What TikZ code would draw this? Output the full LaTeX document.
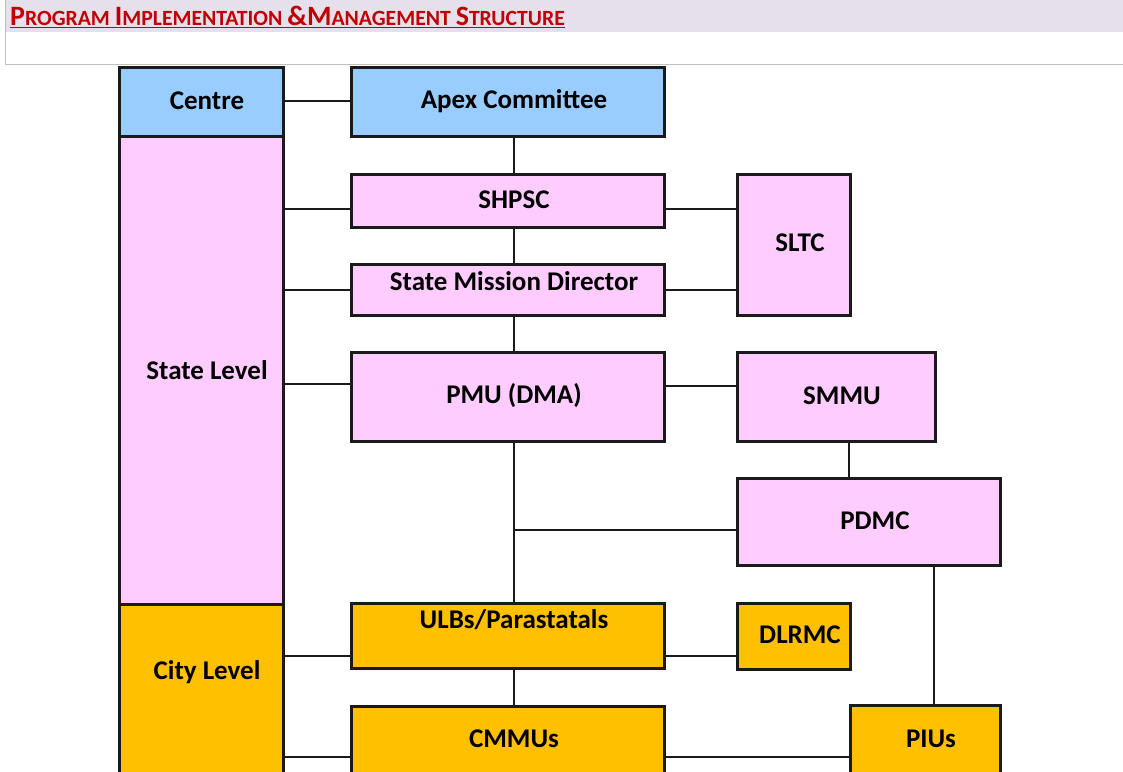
\documentclass[tikz,border=0pt]{standalone}
\usepackage{fontspec}
\setmainfont{Carlito}
\definecolor{hdr}{HTML}{E6E0EC}
\definecolor{hdrline}{HTML}{BFBFBF}
\definecolor{ttl}{HTML}{C00000}
\definecolor{cblue}{HTML}{99CCFF}
\definecolor{cpink}{HTML}{FFCCFF}
\definecolor{corange}{HTML}{FFC000}
\definecolor{edge}{HTML}{1A1A1A}
\tikzset{
  box/.style={draw=edge, line width=2.6pt, rectangle, inner sep=0pt},
  txt/.style={font=\fontsize{27}{30}\selectfont\bfseries, text=black, inner sep=0pt},
  conn/.style={draw=edge, line width=2.8pt},
}
\newcommand{\bigC}[1]{{\fontsize{28}{30}\selectfont #1}}
\newcommand{\smlC}[1]{{\fontsize{21.7}{26}\selectfont #1}}
\begin{document}
\begin{tikzpicture}[x=1pt,y=-1pt]
\useasboundingbox (0,0) rectangle (1123,771);
\clip (0,0) rectangle (1123,771);
% header
\fill[white] (0,0) rectangle (1123,771);
\fill[hdr] (5,0) rectangle (1123,32);
\draw[hdrline, line width=1pt] (5,-2) rectangle (1125,64);
\node[anchor=base west, inner sep=0pt, text=ttl, font=\fontsize{21.7}{26}\selectfont\bfseries] (title) at (10,25)
  {\bigC{P}\smlC{ROGRAM} \bigC{I}\smlC{MPLEMENTATION} \bigC{\&M}\smlC{ANAGEMENT} \bigC{S}\smlC{TRUCTURE}};
\draw[ttl, line width=1.4pt] ([yshift=-2.5pt]title.base west) -- ([yshift=-2.5pt]title.base east);

% left column
\node[box, fill=cblue, minimum width=164, minimum height=69, anchor=north west] (centre) at (118,66) {};
\node[box, fill=cpink, minimum width=164, minimum height=468, anchor=north west] (state) at (118,135) {};
\node[box, fill=corange, minimum width=164, minimum height=200, anchor=north west] (city) at (118,603) {};
\node[txt] (centreT) at (207,101) {Centre};
\node[txt] (stateT) at (207,370) {State Level};
\node[txt] (cityT) at (207,672) {City Level};

% middle column
\node[box, fill=cblue, minimum width=313, minimum height=69, anchor=north west] (apex) at (350,66) {};
\node[txt] (apexT) at (514,101) {Apex Committee};
\node[box, fill=cpink, minimum width=313, minimum height=53, anchor=north west] (shpsc) at (350,173) {};
\node[txt] (shpscT) at (514,200) {SHPSC};
\node[box, fill=cpink, minimum width=313, minimum height=51, anchor=north west] (smd) at (350,263) {};
\node[txt] (smdT) at (514,281) {State Mission Director};
\node[box, fill=cpink, minimum width=313, minimum height=89, anchor=north west] (pmu) at (350,351) {};
\node[txt] (pmuT) at (514,396) {PMU (DMA)};
\node[box, fill=corange, minimum width=313, minimum height=65, anchor=north west] (ulb) at (350,602) {};
\node[txt] (ulbT) at (514,620) {ULBs/Parastatals};
\node[box, fill=corange, minimum width=313, minimum height=100, anchor=north west] (cmmu) at (350,705) {};
\node[txt] (cmmuT) at (514,739) {CMMUs};

% right column
\node[box, fill=cpink, minimum width=113, minimum height=141, anchor=north west] (sltc) at (736,173) {};
\node[txt] (sltcT) at (800,243) {SLTC};
\node[box, fill=cpink, minimum width=198, minimum height=89, anchor=north west] (smmu) at (736,351) {};
\node[txt] (smmuT) at (842,396) {SMMU};
\node[box, fill=cpink, minimum width=263, minimum height=87, anchor=north west] (pdmc) at (736,477) {};
\node[txt] (pdmcT) at (875,521) {PDMC};
\node[box, fill=corange, minimum width=113, minimum height=66, anchor=north west] (dlrmc) at (736,602) {};
\node[txt] (dlrmcT) at (800,635) {DLRMC};
\node[box, fill=corange, minimum width=150, minimum height=100, anchor=north west] (piu) at (849,704) {};
\node[txt] (piuT) at (931,739) {PIUs};

% connectors
\coordinate (j1) at (514,530);
\draw[conn] (centre.east |- 0,101) -- (apex.west |- 0,101);
\draw[conn] (apex.south -| j1) -- (shpsc.north -| j1);
\draw[conn] (shpsc.south -| j1) -- (smd.north -| j1);
\draw[conn] (smd.south -| j1) -- (pmu.north -| j1);
\draw[conn] (pmu.south -| j1) -- (ulb.north -| j1);
\draw[conn] (j1) -- (pdmc.west |- j1);
\draw[conn] (state.east |- 0,209) -- (shpsc.west |- 0,209);
\draw[conn] (state.east |- 0,290) -- (smd.west |- 0,290);
\draw[conn] (state.east |- 0,384) -- (pmu.west |- 0,384);
\draw[conn] (shpsc.east |- 0,209) -- (sltc.west |- 0,209);
\draw[conn] (smd.east |- 0,290) -- (sltc.west |- 0,290);
\draw[conn] (pmu.east |- 0,386) -- (smmu.west |- 0,386);
\draw[conn] (smmu.south -| 849,0) -- (pdmc.north -| 849,0);
\draw[conn] (pdmc.south -| 934,0) -- (piu.north -| 934,0);
\draw[conn] (city.east |- 0,656) -- (ulb.west |- 0,656);
\draw[conn] (ulb.east |- 0,656) -- (dlrmc.west |- 0,656);
\draw[conn] (ulb.south -| j1) -- (cmmu.north -| j1);
\draw[conn] (city.east |- 0,757) -- (cmmu.west |- 0,757);
\draw[conn] (cmmu.east |- 0,757) -- (piu.west |- 0,757);
\end{tikzpicture}
\end{document}
